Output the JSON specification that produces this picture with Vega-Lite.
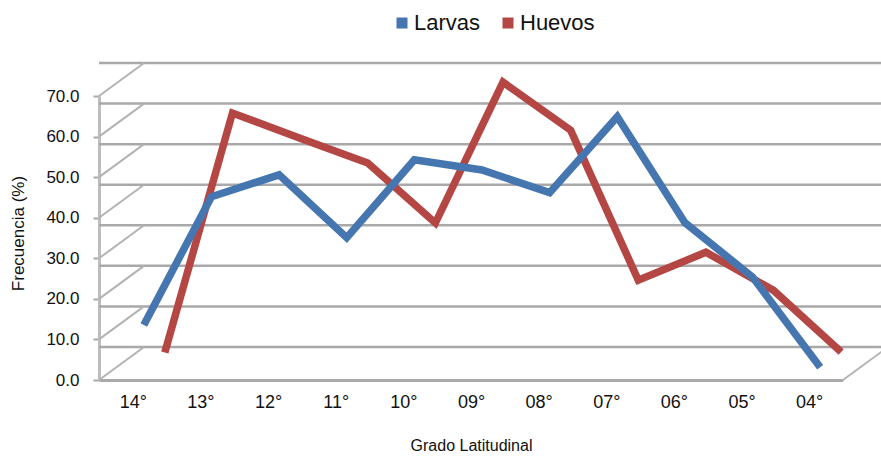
{
  "$schema": "https://vega.github.io/schema/vega-lite/v6.json",
  "autosize": "none",
  "width": 744,
  "height": 284,
  "padding": {"left": 99, "top": 96, "right": 38, "bottom": 76},
  "background": "white",
  "config": {
    "view": {"stroke": null},
    "font": "Liberation Sans"
  },
  "datasets": {
    "series": [
      {"lat": "14°", "serie": "Larvas", "valor": 11.6},
      {"lat": "13°", "serie": "Larvas", "valor": 43.2},
      {"lat": "12°", "serie": "Larvas", "valor": 48.6},
      {"lat": "11°", "serie": "Larvas", "valor": 33.1},
      {"lat": "10°", "serie": "Larvas", "valor": 52.3},
      {"lat": "09°", "serie": "Larvas", "valor": 49.8},
      {"lat": "08°", "serie": "Larvas", "valor": 44.2},
      {"lat": "07°", "serie": "Larvas", "valor": 62.9},
      {"lat": "06°", "serie": "Larvas", "valor": 36.8},
      {"lat": "05°", "serie": "Larvas", "valor": 23.4},
      {"lat": "04°", "serie": "Larvas", "valor": 1.2},
      {"lat": "14°", "serie": "Huevos", "valor": 1.0},
      {"lat": "13°", "serie": "Huevos", "valor": 60.0},
      {"lat": "12°", "serie": "Huevos", "valor": 53.8},
      {"lat": "11°", "serie": "Huevos", "valor": 47.7},
      {"lat": "10°", "serie": "Huevos", "valor": 32.9},
      {"lat": "09°", "serie": "Huevos", "valor": 67.6},
      {"lat": "08°", "serie": "Huevos", "valor": 55.8},
      {"lat": "07°", "serie": "Huevos", "valor": 18.8},
      {"lat": "06°", "serie": "Huevos", "valor": 25.7},
      {"lat": "05°", "serie": "Huevos", "valor": 16.3},
      {"lat": "04°", "serie": "Huevos", "valor": 1.1}
    ],
    "grid": [
      {"g": 0}, {"g": 10}, {"g": 20}, {"g": 30}, {"g": 40}, {"g": 50}, {"g": 60}, {"g": 70}
    ]
  },
  "layer": [
    {
      "data": {"name": "grid"},
      "mark": {"type": "rule", "color": "#a9a9a9", "strokeWidth": 2.5, "xOffset": 45, "yOffset": -33},
      "encoding": {
        "y": {"field": "g", "type": "quantitative", "scale": {"domain": [0, 70], "nice": false}}
      }
    },
    {
      "data": {"name": "grid"},
      "mark": {"type": "rule", "color": "#b3b3b3", "strokeWidth": 2, "xOffset": -33.8, "x2Offset": 11.2, "y2Offset": -33},
      "encoding": {
        "x": {"datum": "14°", "type": "ordinal"},
        "x2": {"datum": "14°"},
        "y": {"field": "g", "type": "quantitative", "scale": {"domain": [0, 70], "nice": false}},
        "y2": {"field": "g"}
      }
    },
    {
      "data": {"name": "grid"},
      "transform": [{"filter": "datum.g == 0"}],
      "mark": {"type": "rule", "color": "#b3b3b3", "strokeWidth": 2, "xOffset": 33.8, "x2Offset": 78.8, "y2Offset": -33},
      "encoding": {
        "x": {"datum": "04°", "type": "ordinal"},
        "x2": {"datum": "04°"},
        "y": {"field": "g", "type": "quantitative", "scale": {"domain": [0, 70], "nice": false}},
        "y2": {"field": "g"}
      }
    },
    {
      "data": {"name": "series"},
      "transform": [{"filter": "datum.serie == 'Huevos'"}],
      "mark": {"type": "line", "strokeWidth": 7.5, "strokeJoin": "miter", "strokeCap": "butt", "xOffset": 32, "yOffset": -23.5},
      "encoding": {
        "x": {
          "field": "lat", "type": "ordinal",
          "sort": ["14°", "13°", "12°", "11°", "10°", "09°", "08°", "07°", "06°", "05°", "04°"],
          "scale": {"type": "point", "padding": 0.5, "domain": ["14°", "13°", "12°", "11°", "10°", "09°", "08°", "07°", "06°", "05°", "04°"]},
          "axis": {
            "title": "Grado Latitudinal",
            "titleFontSize": 16, "titleFontWeight": "normal", "titleColor": "#111",
            "titleBaseline": "middle", "titleY": 65,
            "labelFontSize": 18, "labelColor": "#111", "labelAngle": 0, "labelAlign": "center", "labelPadding": 22,
            "ticks": false, "domainColor": "#a9a9a9", "domainWidth": 3, "grid": false
          }
        },
        "y": {
          "field": "valor", "type": "quantitative",
          "scale": {"domain": [0, 70], "nice": false},
          "axis": {
            "title": "Frecuencia (%)",
            "titleFontSize": 17, "titleFontWeight": "normal", "titleColor": "#111",
            "titleX": -81, "titleY": 137, "titleAngle": -90, "titleBaseline": "middle", "titleAlign": "center",
            "values": [0, 10, 20, 30, 40, 50, 60, 70], "format": ".1f",
            "labelFontSize": 17, "labelColor": "#111", "labelPadding": 14, "labelAlign": "right", "labelBaseline": "middle",
            "tickSize": 6, "tickColor": "#a9a9a9", "tickWidth": 2,
            "domainColor": "#bdbdbd", "domainWidth": 3, "grid": false
          }
        },
        "color": {
          "field": "serie", "type": "nominal",
          "scale": {"domain": ["Larvas", "Huevos"], "range": ["#4676b0", "#b44743"]},
          "legend": {
            "title": null, "orient": "none", "legendX": 292, "legendY": -84,
            "direction": "horizontal", "symbolType": "square", "symbolSize": 121,
            "labelFontSize": 22, "labelColor": "#111", "labelOffset": 1, "columnPadding": 16, "padding": 0,
            "encode": {"symbols": {"update": {"fill": {"scale": "color", "field": "value"}, "strokeWidth": {"value": 0}}}}
          }
        }
      }
    },
    {
      "data": {"name": "series"},
      "transform": [{"filter": "datum.serie == 'Larvas'"}],
      "mark": {"type": "line", "strokeWidth": 7.5, "strokeJoin": "miter", "strokeCap": "butt", "xOffset": 11, "yOffset": -8},
      "encoding": {
        "x": {"field": "lat", "type": "ordinal"},
        "y": {"field": "valor", "type": "quantitative"},
        "color": {"field": "serie", "type": "nominal"}
      }
    }
  ]
}
